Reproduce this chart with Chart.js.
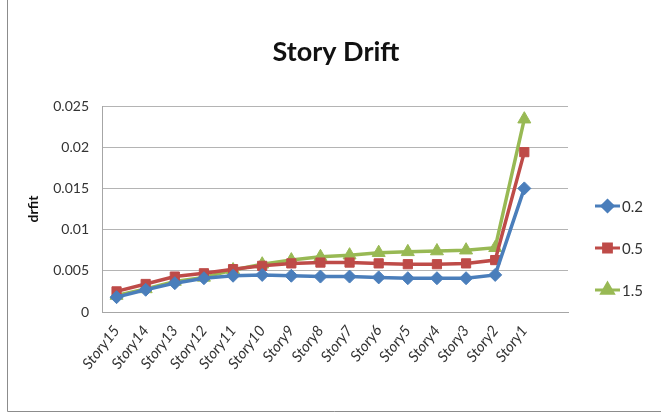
<!DOCTYPE html>
<html>
<head>
<meta charset="utf-8">
<script src="https://cdn.jsdelivr.net/npm/chart.js@4.4.1/dist/chart.umd.min.js"></script>
<style>
    html, body { margin: 0; padding: 0; background: #fff; }
    #wrap { width: 661px; height: 413px; position: relative; }
</style>
</head>
<body>
<div id="wrap"><canvas id="driftChart" width="661" height="413"></canvas></div>
<script>
// 층 이름 (마지막 빈 칸은 엑셀처럼 오른쪽 여백용)
const stories = ['Story15', 'Story14', 'Story13', 'Story12', 'Story11', 'Story10', 'Story9', 'Story8',
    'Story7', 'Story6', 'Story5', 'Story4', 'Story3', 'Story2', 'Story1', ''];

// 계수별 층간 변위
const drift02 = [0.0018, 0.0027, 0.0035, 0.0041, 0.0044, 0.0045, 0.0044, 0.0043,
    0.0043, 0.0042, 0.0041, 0.0041, 0.0041, 0.0045, 0.0150];
const drift05 = [0.0025, 0.0034, 0.0043, 0.0047, 0.0052, 0.0056, 0.0059, 0.0060,
    0.0060, 0.0059, 0.0058, 0.0058, 0.0059, 0.0063, 0.0194];
const drift15 = [0.0020, 0.0028, 0.0037, 0.0042, 0.0051, 0.0058, 0.0063, 0.0067,
    0.0069, 0.0072, 0.0073, 0.0074, 0.0075, 0.0078, 0.0234];

const yTicks = [0, 0.005, 0.01, 0.015, 0.02, 0.025];

const FONT = 'Lato, "Open Sans", sans-serif';

// 바깥 테두리 (왼쪽/아래)
const framePlugin = {
    id: 'frame',
    beforeDraw(chart) {
        const ctx = chart.ctx;
        ctx.save();
        ctx.strokeStyle = '#8c8c8c';
        ctx.lineWidth = 1;
        ctx.beginPath();
        ctx.moveTo(7.5, 0);
        ctx.lineTo(7.5, 411.5);
        ctx.lineTo(661, 411.5);
        ctx.stroke();
        ctx.restore();
    }
};

// 차트 제목 (전체 폭 기준 가운데)
const titlePlugin = {
    id: 'centerTitle',
    afterDraw(chart) {
        const ctx = chart.ctx;
        ctx.save();
        ctx.fillStyle = '#111';
        ctx.font = 'bold 27px ' + FONT;
        ctx.textAlign = 'center';
        ctx.textBaseline = 'middle';
        ctx.fillText('Story Drift', 336, 52);
        ctx.restore();
    }
};

// 엑셀식 범례: 선 + 마커 + 글자
const lineLegend = {
    id: 'lineLegend',
    afterDraw(chart) {
        const ctx = chart.ctx;
        const rows = [206, 248, 290];
        ctx.save();
        chart.data.datasets.forEach((ds, i) => {
            const y = rows[i];
            ctx.strokeStyle = ds.borderColor;
            ctx.lineWidth = 3;
            ctx.beginPath();
            ctx.moveTo(595, y);
            ctx.lineTo(620, y);
            ctx.stroke();
            ctx.fillStyle = ds.backgroundColor;
            Chart.helpers.drawPoint(ctx, {
                pointStyle: ds.pointStyle,
                radius: ds.pointRadius - 1,
                borderWidth: 1
            }, 607.5, y);
            ctx.fillStyle = '#333';
            ctx.font = '15px ' + FONT;
            ctx.textBaseline = 'middle';
            ctx.textAlign = 'left';
            ctx.fillText(ds.label, 622, y + 1);
        });
        ctx.restore();
    }
};

new Chart(document.getElementById('driftChart'), {
    type: 'line',
    data: {
        labels: stories,
        datasets: [
            {
                label: '0.2',
                data: drift02,
                borderColor: '#4a7ebb',
                backgroundColor: '#4a7ebb',
                pointStyle: 'rectRot',
                pointRadius: 6.5
            },
            {
                label: '0.5',
                data: drift05,
                borderColor: '#be4b48',
                backgroundColor: '#be4b48',
                pointStyle: 'rect',
                pointRadius: 6.5
            },
            {
                label: '1.5',
                data: drift15,
                borderColor: '#98b954',
                backgroundColor: '#98b954',
                pointStyle: 'triangle',
                pointRadius: 7.5
            }
        ]
    },
    options: {
        responsive: false,
        animation: false,
        elements: {
            line: { borderWidth: 3.5, tension: 0 },
            point: { borderWidth: 1 }
        },
        layout: { padding: { left: 0, right: 93, top: 106, bottom: 0 } },
        plugins: {
            legend: { display: false },
            tooltip: { enabled: false },
            title: { display: false }
        },
        scales: {
            x: {
                offset: true,
                grid: { display: false },
                border: { display: true, color: '#a6a6a6', width: 1 },
                ticks: {
                    autoSkip: false,
                    minRotation: 52,
                    maxRotation: 52,
                    padding: 2,
                    color: '#333',
                    font: { family: FONT, size: 15, style: 'italic' }
                },
                afterFit(scale) { scale.height = 101; }
            },
            y: {
                min: 0,
                max: 0.025,
                afterBuildTicks(scale) {
                    scale.ticks = yTicks.map(v => ({ value: v }));
                },
                grid: { color: '#b4b4b4', lineWidth: 1, drawTicks: false },
                border: { display: true, color: '#a6a6a6', width: 1 },
                ticks: {
                    padding: 13,
                    color: '#333',
                    font: { family: FONT, size: 14 },
                    callback: v => String(+v.toFixed(3))
                },
                title: {
                    display: true,
                    text: 'drfit',
                    color: '#111',
                    font: { family: FONT, size: 14, weight: 'bold' },
                    padding: { top: 25, bottom: 0 }
                },
                afterFit(scale) { scale.width = 102; }
            }
        }
    },
    plugins: [framePlugin, titlePlugin, lineLegend]
});
</script>
</body>
</html>
